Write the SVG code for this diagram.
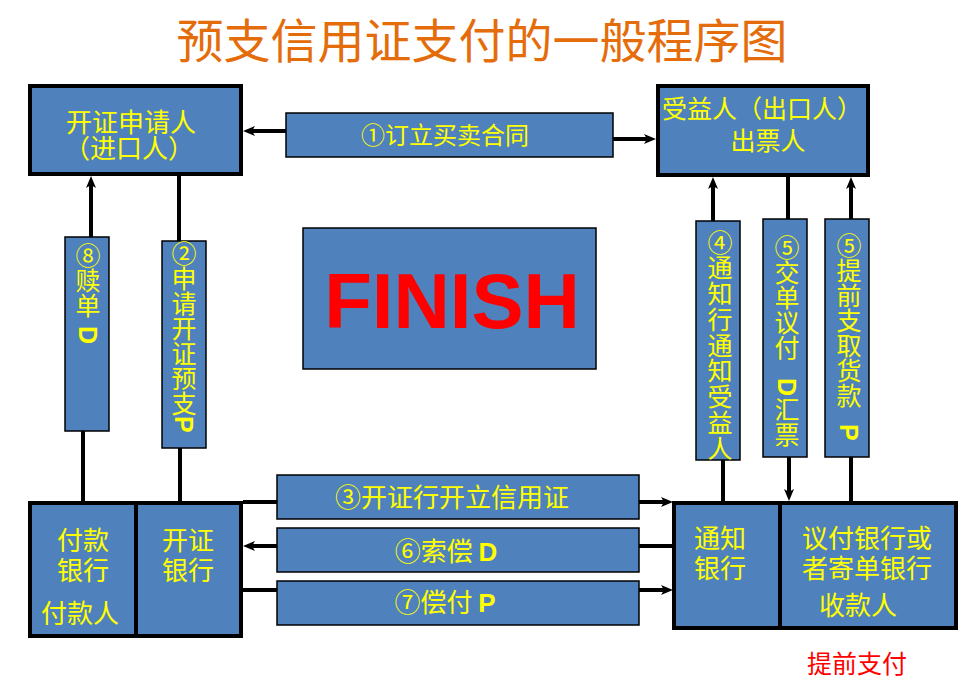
<svg xmlns="http://www.w3.org/2000/svg" width="973" height="683" viewBox="0 0 973 683">
<style>
.big{fill:#4F81BD;stroke:#000;stroke-width:4}
.lbl{fill:#4F81BD;stroke:#000;stroke-width:1.5}
.t{font-family:"Noto Sans CJK SC","Noto Sans",sans-serif;fill:#FFFF00;text-anchor:middle}
.vt{font-family:"Noto Sans CJK SC","Noto Sans",sans-serif;fill:#FFFF00;font-size:25px;writing-mode:vertical-rl}
.lat{font-family:"Liberation Sans",Arial,sans-serif;font-weight:bold}
.ln{stroke:#000;stroke-width:4;fill:none}
.ar{marker-end:url(#ah)}
</style>
<defs>
<marker id="ah" viewBox="0 0 12 10" refX="6" refY="5" markerWidth="12" markerHeight="10" orient="auto" markerUnits="userSpaceOnUse">
<path d="M0,0 L12,5 L0,10 L3,5 Z" fill="#000"/>
</marker>
</defs>
<rect width="973" height="683" fill="#fff"/>
<text x="482" y="58" font-family="Noto Sans CJK SC,sans-serif" font-size="47" fill="#E46C0A" text-anchor="middle">预支信用证支付的一般程序图</text>

<g id="connectors">
<line class="ln ar" x1="286" y1="131" x2="249" y2="131"/>
<line class="ln ar" x1="613" y1="139" x2="650" y2="139"/>
<line class="ln ar" x1="91" y1="237" x2="91" y2="182"/>
<line class="ln" x1="83" y1="431" x2="83" y2="501"/>
<line class="ln" x1="179" y1="176" x2="179" y2="241"/>
<line class="ln ar" x1="180" y1="448" x2="180" y2="516"/>
<line class="ln ar" x1="713" y1="221" x2="713" y2="183"/>
<line class="ln" x1="723" y1="460" x2="723" y2="501"/>
<line class="ln" x1="788" y1="177" x2="788" y2="219"/>
<line class="ln ar" x1="789" y1="457" x2="789" y2="495"/>
<line class="ln ar" x1="851" y1="219" x2="851" y2="183"/>
<line class="ln" x1="851" y1="457" x2="851" y2="501"/>
<line class="ln" x1="243" y1="502" x2="277" y2="502"/>
<line class="ln ar" x1="639" y1="502" x2="667" y2="502"/>
<line class="ln ar" x1="277" y1="546" x2="249" y2="546"/>
<line class="ln" x1="639" y1="546" x2="672" y2="546"/>
<line class="ln" x1="243" y1="590" x2="277" y2="590"/>
<line class="ln ar" x1="639" y1="590" x2="667" y2="590"/>
</g>

<g id="applicant">
<rect class="big" x="30" y="86" width="211" height="88"/>
<text class="t" font-size="26"><tspan x="131" y="132">开证申请人</tspan><tspan x="129" y="158">（进口人）</tspan></text>
</g>
<g id="beneficiary">
<rect class="big" x="658" y="86" width="210" height="89"/>
<text class="t" font-size="25"><tspan x="762" y="118">受益人（出口人）</tspan><tspan x="768" y="150">出票人</tspan></text>
</g>
<g id="step1">
<rect class="lbl" x="286" y="113" width="327" height="44"/>
<text class="t" x="445" y="144" font-size="24">①订立买卖合同</text>
</g>
<g id="finish">
<rect class="lbl" x="303" y="228" width="293" height="141"/>
<text x="452" y="328" font-family="Liberation Sans,Arial,sans-serif" font-weight="bold" font-size="78" fill="#FF0000" text-anchor="middle">FINISH</text>
</g>
<g id="step8">
<rect class="lbl" x="65" y="237" width="44" height="194"/>
<text class="vt" x="88" y="243">⑧赎单<tspan class="lat" y="326">D</tspan></text>
</g>
<g id="step2">
<rect class="lbl" x="162" y="241" width="44" height="207"/>
<text class="vt" x="184" y="241">②申请开证预支<tspan class="lat">P</tspan></text>
</g>
<g id="step4">
<rect class="lbl" x="696" y="221" width="44" height="239"/>
<text class="vt" x="720" y="229.5" letter-spacing="0.8">④通知行通知受益人</text>
</g>
<g id="step5a">
<rect class="lbl" x="763" y="219" width="44" height="238"/>
<text class="vt" x="787" y="234.5">⑤交单议付<tspan class="lat" y="378">D</tspan><tspan y="397">汇票</tspan></text>
</g>
<g id="step5b">
<rect class="lbl" x="825" y="219" width="44" height="238"/>
<text class="vt" x="849" y="232.5">⑤提前支取货款<tspan class="lat" y="424">P</tspan></text>
</g>
<g id="step3">
<rect class="lbl" x="277" y="475" width="362" height="44"/>
<text class="t" x="452" y="507" font-size="26">③开证行开立信用证</text>
</g>
<g id="step6">
<rect class="lbl" x="277" y="528" width="362" height="44"/>
<text class="t" x="446" y="561" font-size="26">⑥索偿 <tspan class="lat">D</tspan></text>
</g>
<g id="step7">
<rect class="lbl" x="277" y="581" width="362" height="44"/>
<text class="t" x="445" y="612" font-size="26">⑦偿付 <tspan class="lat">P</tspan></text>
</g>
<g id="issuing-bank">
<rect class="big" x="30" y="503" width="211" height="133"/>
<line class="ln" x1="136" y1="503" x2="136" y2="634"/>
<text class="t" font-size="26"><tspan x="83" y="550">付款</tspan><tspan x="83" y="580">银行</tspan><tspan x="80" y="623">付款人</tspan></text>
<text class="t" font-size="26"><tspan x="188" y="550">开证</tspan><tspan x="188" y="580">银行</tspan></text>
</g>
<g id="advising-bank">
<rect class="big" x="674" y="503" width="282" height="125"/>
<line class="ln" x1="780" y1="503" x2="780" y2="628"/>
<text class="t" font-size="26"><tspan x="720" y="548">通知</tspan><tspan x="720" y="578">银行</tspan></text>
<text class="t" font-size="26"><tspan x="867" y="548">议付银行或</tspan><tspan x="867" y="578">者寄单银行</tspan><tspan x="858" y="615">收款人</tspan></text>
</g>
<text x="857" y="673" font-family="Noto Sans CJK SC,sans-serif" font-size="25" fill="#FF0000" text-anchor="middle">提前支付</text>
</svg>
